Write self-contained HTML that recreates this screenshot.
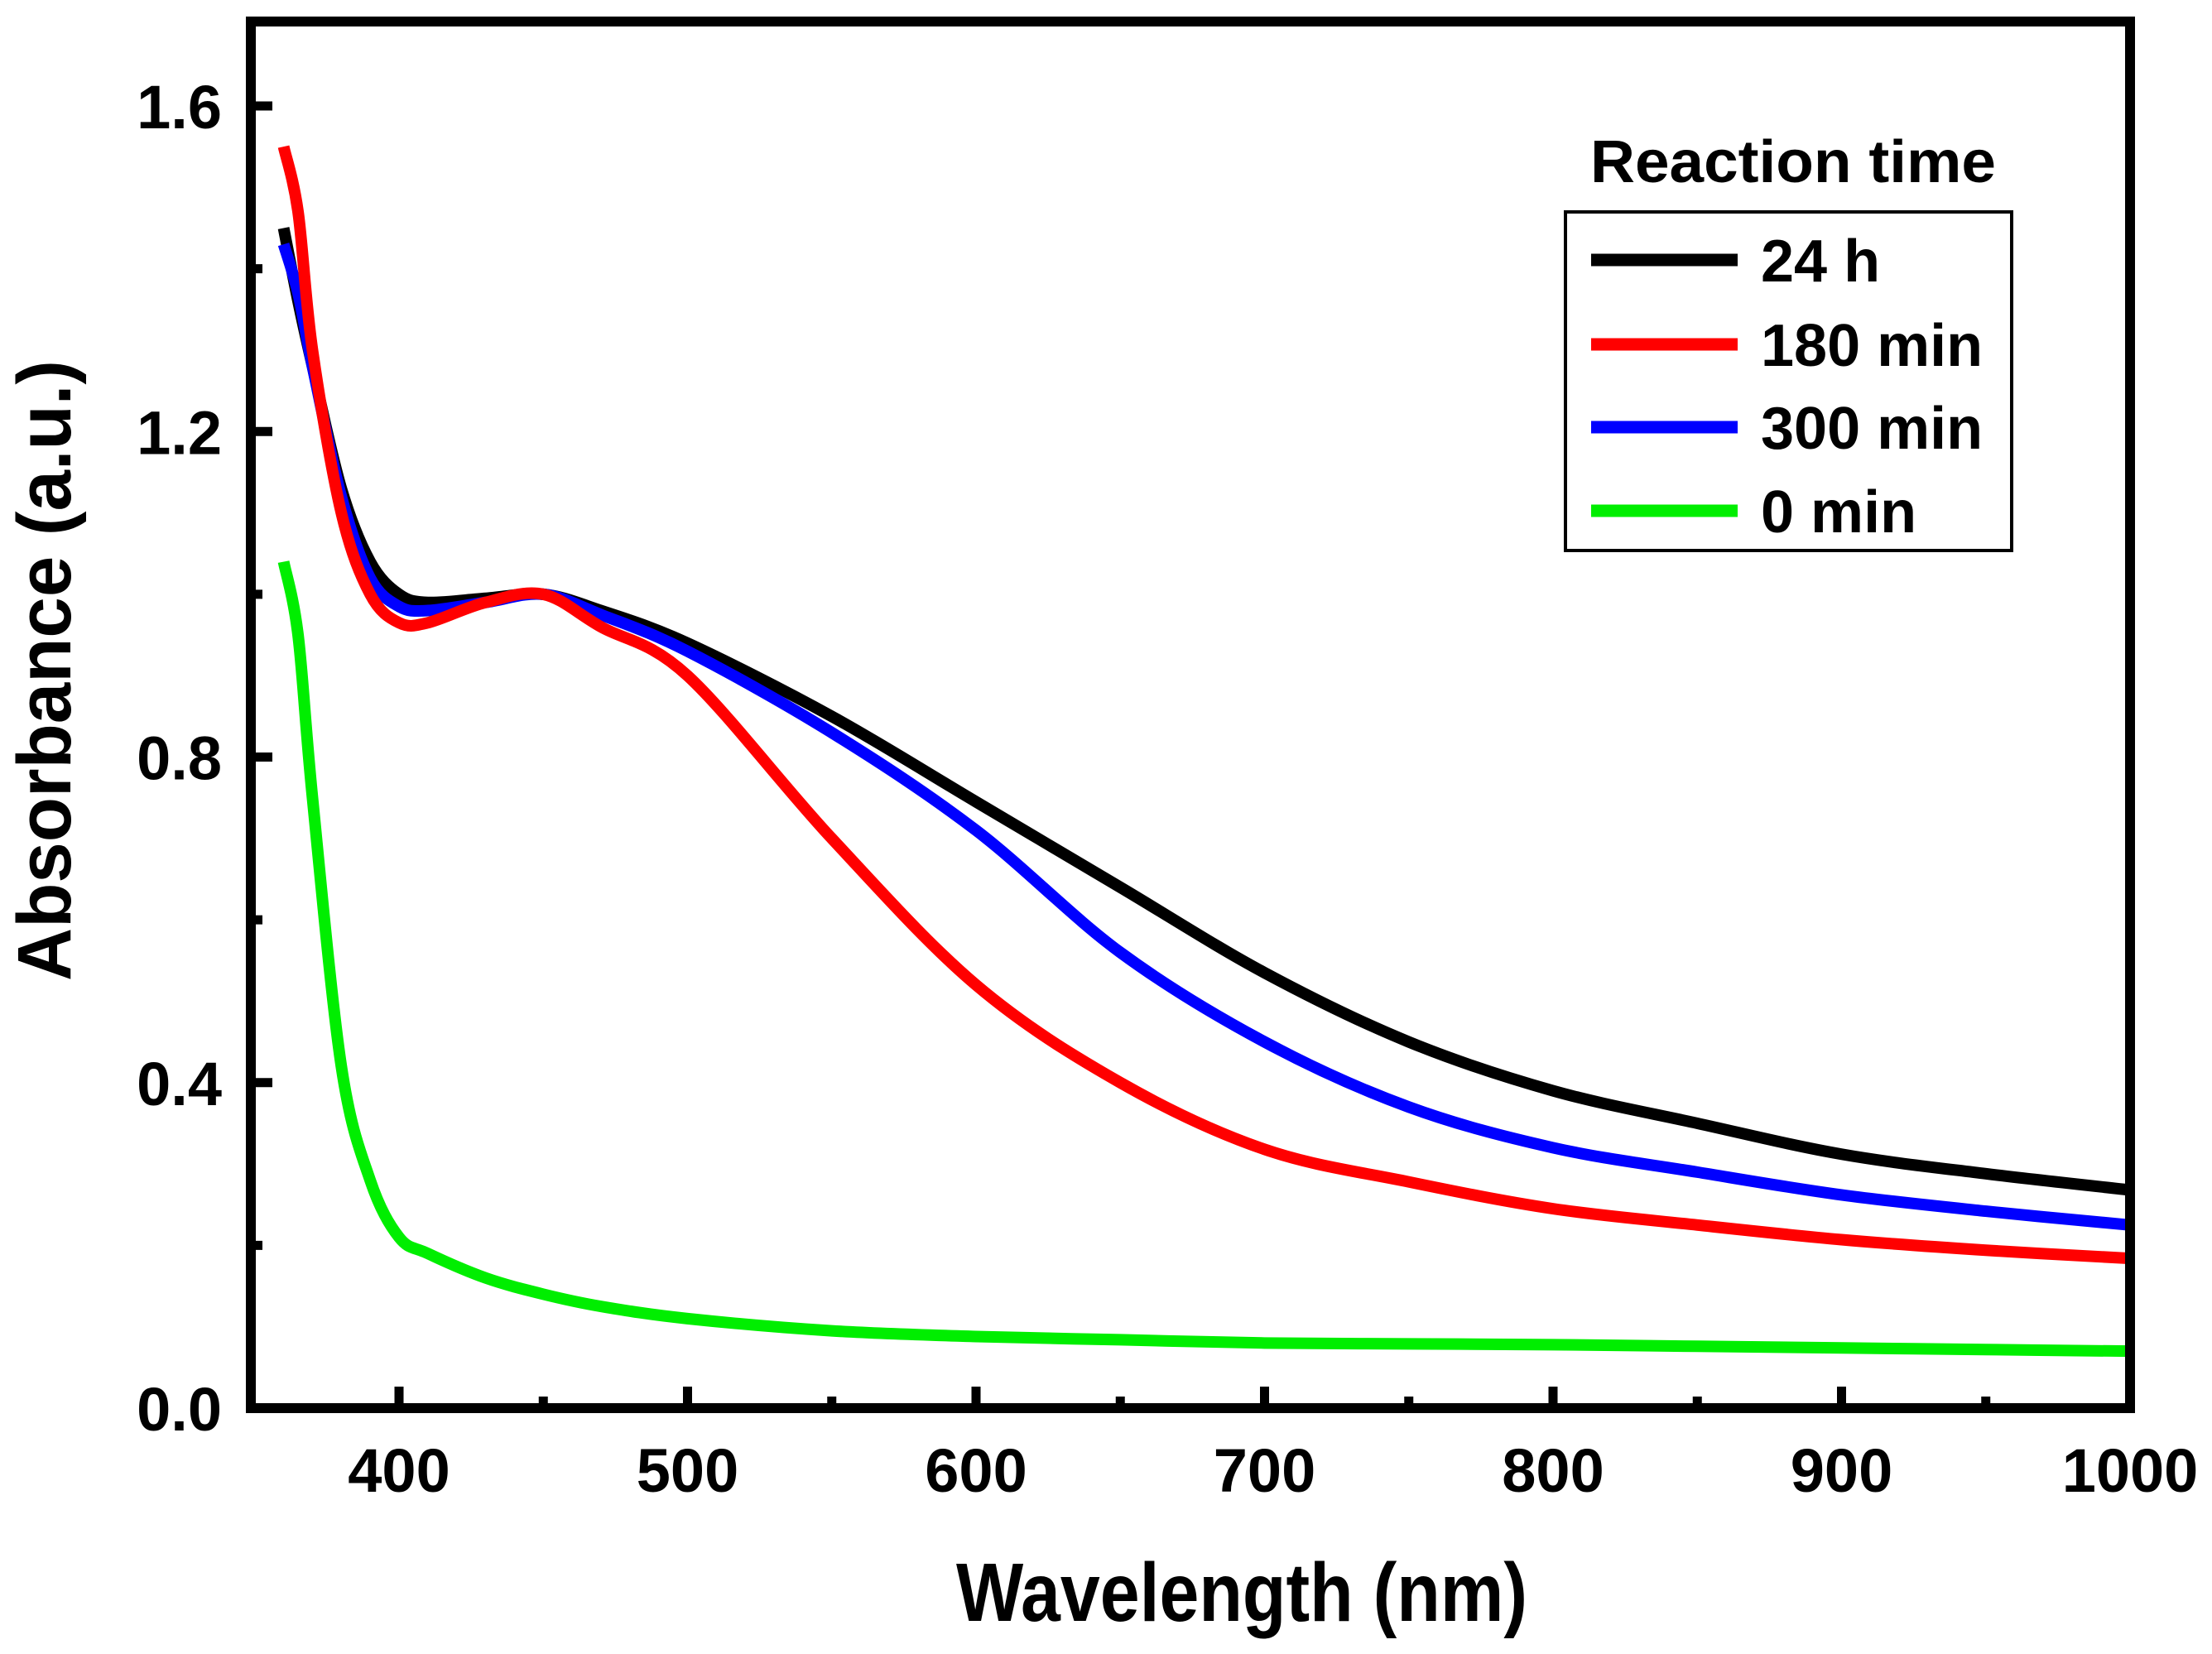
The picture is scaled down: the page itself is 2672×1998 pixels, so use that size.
<!DOCTYPE html>
<html><head><meta charset="utf-8"><style>
html,body{margin:0;padding:0;background:#fff;}
svg{display:block;font-family:"Liberation Sans",Arial,sans-serif;font-weight:bold;}
</style></head><body>
<svg id="chart" width="2672" height="1998" viewBox="0 0 2672 1998" xmlns="http://www.w3.org/2000/svg">
<g id="series"></g>
<g id="axes"></g>
<text x="1500" y="1958" text-anchor="middle" font-size="100" textLength="690" lengthAdjust="spacingAndGlyphs">Wavelength (nm)</text>
<text transform="translate(85,810) rotate(-90)" text-anchor="middle" font-size="92" textLength="750" lengthAdjust="spacingAndGlyphs">Absorbance (a.u.)</text>
<g>
<text x="2166" y="220" text-anchor="middle" font-size="72" textLength="490" lengthAdjust="spacingAndGlyphs">Reaction time</text>
<rect x="1891" y="256" width="539" height="409" fill="#fff" stroke="#000" stroke-width="4"/>
<g id="legend-entries"></g>
</g>
</svg>
<script>
const wl = [360,365,370,380,390,400,410,430,450,470,500,550,600,650,700,750,800,850,900,950,1000];
const black = [1.45,1.36,1.28,1.13,1.04,1.00,0.99,0.995,1.0,0.98,0.94,0.85,0.745,0.64,0.535,0.45,0.39,0.35,0.312,0.288,0.268];
const red = [1.55,1.47,1.30,1.10,1.00,0.965,0.965,0.99,1.0,0.96,0.90,0.70,0.52,0.40,0.318,0.278,0.245,0.225,0.207,0.194,0.184];
const blue = [1.43,1.37,1.28,1.12,1.02,0.985,0.98,0.99,1.0,0.975,0.93,0.83,0.71,0.56,0.45,0.37,0.32,0.29,0.262,0.242,0.225];
const green = [1.04,0.95,0.75,0.42,0.28,0.21,0.19,0.16,0.14,0.125,0.11,0.095,0.088,0.084,0.08,0.079,0.078,0.076,0.074,0.072,0.07];
const seriesNames = ["24 h","180 min","300 min","0 min"];
const seriesColors = ["#000000","#ff0000","#0000ff","#00ee00"];
const xTicks = [400,500,600,700,800,900,1000];
const xMinor = [450,550,650,750,850,950];
const yTicks = [0.0,0.4,0.8,1.2,1.6];
const yMinor = [0.2,0.6,1.0,1.4];
const yLabels = ["0.0","0.4","0.8","1.2","1.6"];

const L=303,R=2573,T=26,B=1701;
function xs(w){return 482+(w-400)*(2573-482)/600;}
function ys(v){return 1701-v*(1701-128)/1.6;}
const NS="http://www.w3.org/2000/svg";
function mk(tag,attrs,parent){const e=document.createElementNS(NS,tag);for(const k in attrs)e.setAttribute(k,attrs[k]);parent.appendChild(e);return e;}
const sg=document.getElementById('series');
const all=[black,red,blue,green];
const order=[3,0,2,1];
function smoothPath(xsArr,ysArr){
  let d="M"+xsArr[0]+","+ysArr[0];
  for(let i=0;i<xsArr.length-1;i++){
    const x0=xsArr[Math.max(i-1,0)],y0=ysArr[Math.max(i-1,0)];
    const x1=xsArr[i],y1=ysArr[i],x2=xsArr[i+1],y2=ysArr[i+1];
    const x3=xsArr[Math.min(i+2,xsArr.length-1)],y3=ysArr[Math.min(i+2,xsArr.length-1)];
    d+=" C"+(x1+(x2-x0)/6)+","+(y1+(y2-y0)/6)+" "+(x2-(x3-x1)/6)+","+(y2-(y3-y1)/6)+" "+x2+","+y2;
  }
  return d;
}
order.forEach(i=>{
  const p=mk('path',{d:smoothPath(wl.map(xs),all[i].map(ys)),fill:'none',stroke:seriesColors[i],'stroke-width':14,'stroke-linejoin':'round'},sg);
  
  
});
const ag=document.getElementById('axes');
const frame=mk('rect',{x:L,y:T,width:R-L,height:B-T,fill:'none',stroke:'#000','stroke-width':12},ag);


xTicks.forEach(t=>{
  const x=xs(t);
  const tk=mk('line',{x1:x,x2:x,y1:B,y2:B-26,stroke:'#000','stroke-width':11},ag);
  
  
  const lb=mk('text',{x:x,y:1802,'text-anchor':'middle','font-size':74},ag);
  lb.textContent=String(t);
  
  
});
xMinor.forEach(t=>{
  const x=xs(t);
  const tk=mk('line',{x1:x,x2:x,y1:B,y2:B-14,stroke:'#000','stroke-width':11},ag);
  
  
});
yTicks.forEach((t,i)=>{
  const y=ys(t);
  const tk=mk('line',{x1:L,x2:L+26,y1:y,y2:y,stroke:'#000','stroke-width':11},ag);
  
  
  const lb=mk('text',{x:268,y:y+27,'text-anchor':'end','font-size':74},ag);
  lb.textContent=yLabels[i];
  
  
});
yMinor.forEach(t=>{
  const y=ys(t);
  const tk=mk('line',{x1:L,x2:L+14,y1:y,y2:y,stroke:'#000','stroke-width':11},ag);
  
  
});
const lg=document.getElementById('legend-entries');
const ly=[314,416,516,617];
seriesNames.forEach((n,i)=>{
  const ln=mk('line',{x1:1922,x2:2099,y1:ly[i],y2:ly[i],stroke:seriesColors[i],'stroke-width':15},lg);
  
  
  const tx=mk('text',{x:2127,y:ly[i]+26,'font-size':72},lg);
  tx.textContent=n;
  
  
});
</script>
</body></html>
